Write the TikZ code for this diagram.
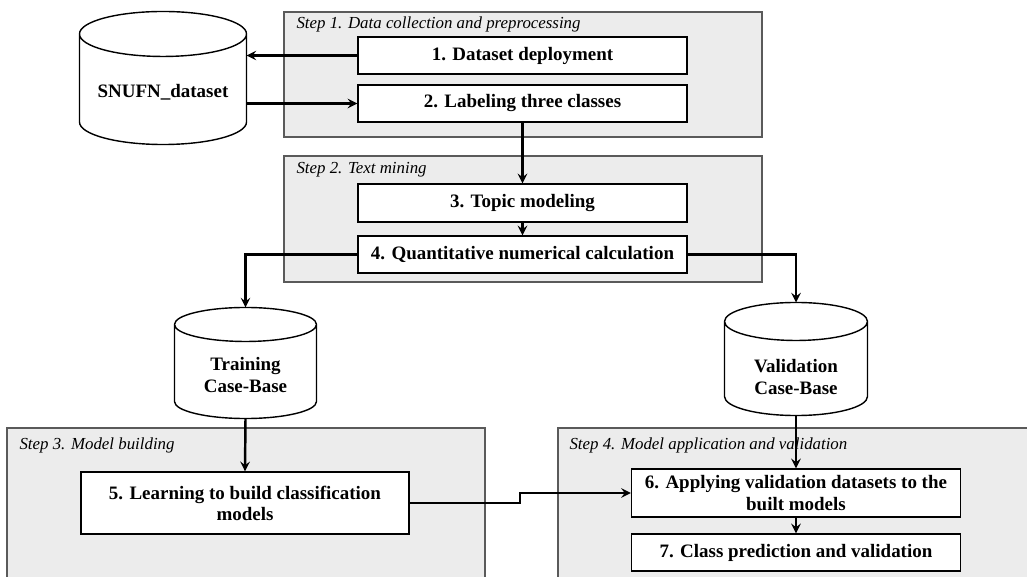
\documentclass[tikz,border=0pt]{standalone}
\usepackage{fontspec}
\setmainfont{Liberation Serif}
\usepackage{tikz}
\usetikzlibrary{arrows,arrows.meta,calc}

\definecolor{stepgray}{HTML}{ECECEC}
\definecolor{stepline}{HTML}{5A5A5A}

% outline of a case base round the node #1, #2 = half height of its end ellipse
\newcommand{\drawbase}[2]{%
    \draw[basedraw] let \p1 = (#1.north west), \p2 = (#1.south east),
            \n1 = {(\x2-\x1)/2}, \n2 = {#2} in
        (\x1,{\y1-\n2}) -- (\x1,{\y2+\n2})
        arc[start angle=180, end angle=360, x radius=\n1, y radius=\n2]
        -- (\x2,{\y1-\n2})
        arc[start angle=0, end angle=180, x radius=\n1, y radius=\n2]
        -- cycle
        (\x1,{\y1-\n2})
        arc[start angle=180, end angle=360, x radius=\n1, y radius=\n2];
}

\begin{document}
\begin{tikzpicture}[
        x = 0.02cm, y = -0.02cm, % one unit = one pixel of the layout
        > = stealth, % arrow head style
        semithick % line style
    ]

    \tikzstyle{stepbox}=[
        draw = stepline,
        line width = 0.9pt,
        fill = stepgray
    ]
    \tikzstyle{steptitle}=[
        anchor = north west,
        inner sep = 0pt,
        font = \fontsize{9.6}{11}\selectfont\itshape
    ]
    \tikzstyle{task}=[
        draw = black,
        line width = 0.8pt,
        fill = white,
        minimum width = 6.58cm,
        align = center,
        font = \fontsize{10.8}{12}\selectfont\bfseries
    ]
    \tikzstyle{base}=[
        inner sep = 0pt
    ]
    \tikzstyle{basedraw}=[
        draw = black,
        line width = 0.8pt,
        fill = white
    ]
    \tikzstyle{basetext}=[
        align = center,
        font = \fontsize{10.8}{12}\selectfont\bfseries
    ]
    \tikzstyle{link}=[
        ->,
        line width = 1.4pt
    ]

    \useasboundingbox (0,0) rectangle (1027,577);
    \clip (0,0) rectangle (1027,577);

    % step frames
    \draw[stepbox] (284,12) rectangle (762,137);
    \draw[stepbox] (284,156) rectangle (762,282);
    \draw[stepbox] (7,428) rectangle (485,600);
    \draw[stepbox] (558,428) rectangle (1040,600);

    \node[steptitle] (s1) at (296,16) {Step 1. Data collection and preprocessing};
    \node[steptitle] (s2) at (296,162) {Step 2. Text mining};
    \node[steptitle] (s3) at (19,437) {Step 3. Model building};
    \node[steptitle] (s4) at (569,437) {Step 4. Model application and validation};

    % tasks
    \node[task, minimum height = 0.74cm] (b1) at (522.5,55.5) {1. Dataset deployment};
    \node[task, minimum height = 0.74cm] (b2) at (522.5,103.5) {2. Labeling three classes};
    \node[task, minimum height = 0.76cm] (b3) at (522.5,203) {3. Topic modeling};
    \node[task, minimum height = 0.74cm] (b4) at (522.5,254.5) {4. Quantitative numerical calculation};
    \node[task, minimum width = 6.56cm, minimum height = 1.24cm] (b5) at (245,503)
        {5. Learning to build classification\\models};
    \node[task, minimum height = 0.96cm] (b6) at (796,493)
        {6. Applying validation datasets to the\\built models};
    \node[task, minimum height = 0.74cm] (b7) at (796,552.5) {7. Class prediction and validation};

    % case bases
    \node[base, minimum width = 3.32cm, minimum height = 2.64cm] (snufn) at (163,78) {};
    \node[base, minimum width = 2.82cm, minimum height = 2.2cm] (train) at (245.5,363) {};
    \node[base, minimum width = 2.84cm, minimum height = 2.24cm] (valid) at (796,359) {};
    \drawbase{snufn}{0.45cm}
    \drawbase{train}{0.34cm}
    \drawbase{valid}{0.38cm}
    \node[basetext] (snufn-t) at (163,92) {SNUFN\_dataset};
    \node[basetext] (train-t) at (245.5,375) {Training\\Case-Base};
    \node[basetext] (valid-t) at (796,377) {Validation\\Case-Base};

    \coordinate (jog) at (520,497);

    \draw[link] (b1.west) -- (b1.west -| snufn.east);
    \draw[link] (b2.west -| snufn.east) -- (b2.west);
    \draw[link] (b2.south) -- (b3.north);
    \draw[link] (b3.south) -- (b4.north);
    \draw[link] (b4.west) -| (train.north);
    \draw[link] (b4.east) -| (valid.north);
    \draw[link] (train.south) -- (b5.north);
    \draw[link] (valid.south) -- (b6.north);
    \draw[link] (b5.east) -| (jog) |- (b6.west);
    \draw[link] (b6.south) -- (b7.north);
\end{tikzpicture}
\end{document}
